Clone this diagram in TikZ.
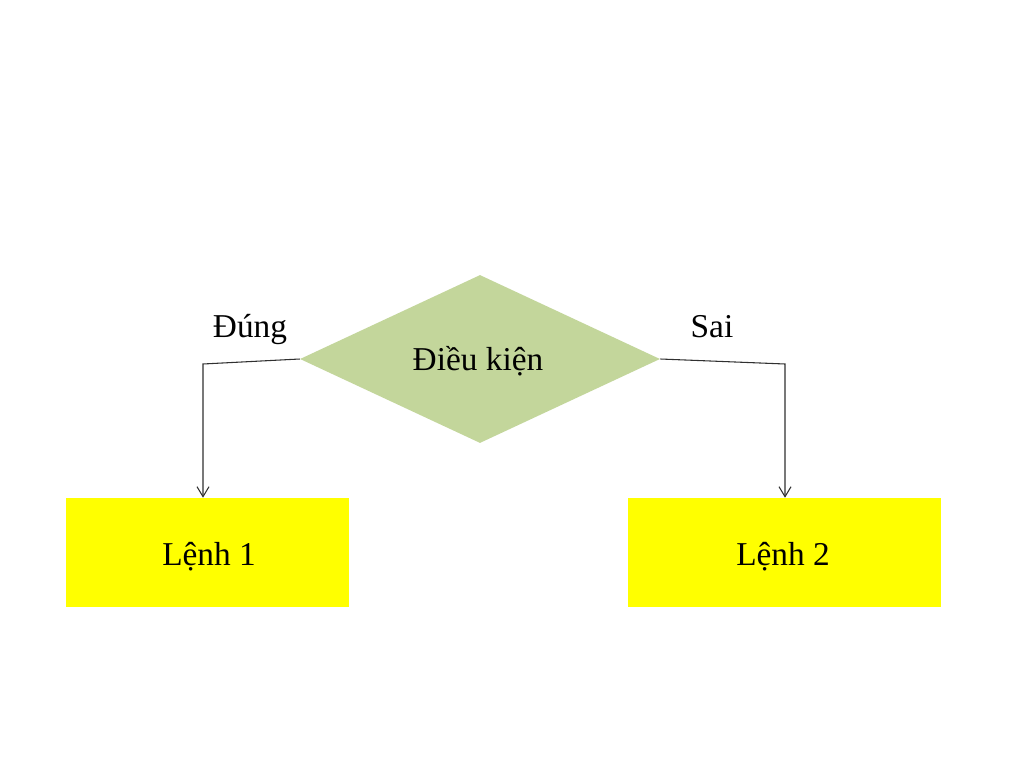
\documentclass[tikz,border=0pt]{standalone}
\usepackage{fontspec}
\setmainfont{Liberation Serif}
\usetikzlibrary{shapes.geometric,arrows.meta}
\definecolor{diagreen}{HTML}{C3D69B}
\definecolor{boxyellow}{HTML}{FFFF00}
\definecolor{linegray}{HTML}{303030}
\begin{document}
\begin{tikzpicture}[x=0.75pt,y=-0.75pt,
  lbl/.style={font=\fontsize{25}{30}\selectfont, anchor=base, inner sep=0pt},
  cmdbox/.style={fill=boxyellow, draw=none, inner sep=0pt},
  conn/.style={draw=linegray, line width=0.8pt, -{Straight Barb[length=7.5pt,width=9pt,line width=0.8pt]}}
]
\useasboundingbox[fill=white] (0,0) rectangle (1024,759);
% decision
\node[diamond, fill=diagreen, draw=none, inner sep=0pt, aspect=2.14,
      minimum width=270pt, minimum height=126pt] (dia) at (480,359) {};
\node[lbl] (cond) at (478,370) {Điều kiện};
% command boxes
\node[cmdbox, minimum width=212.25pt, minimum height=81.75pt] (l1) at (207.5,552.5) {};
\node[cmdbox, minimum width=234.75pt, minimum height=81.75pt] (l2) at (784.5,552.5) {};
\node[lbl] (t1) at (209,565) {Lệnh 1};
\node[lbl] (t2) at (783,565) {Lệnh 2};
% branch labels
\node[lbl] (yes) at (250,337) {Đúng};
\node[lbl] (no) at (712,337) {Sai};
% connectors
\coordinate (cl) at (203,364);
\coordinate (cr) at (785,364);
\draw[conn] (dia.west) -- (cl) -- (cl |- l1.north);
\draw[conn] (dia.east) -- (cr) -- (cr |- l2.north);
\end{tikzpicture}
\end{document}
